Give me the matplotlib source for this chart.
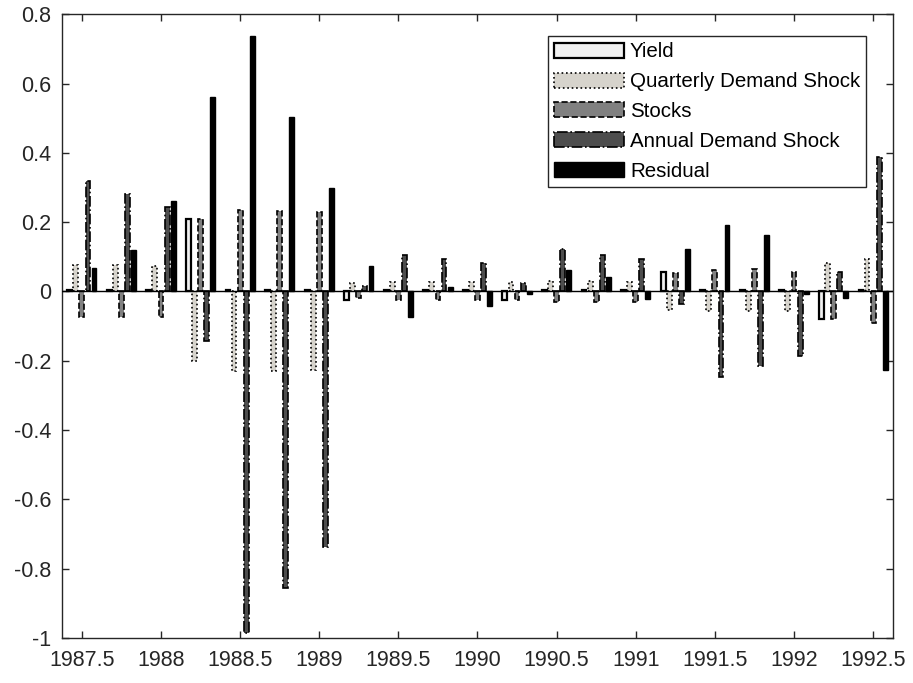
import numpy as np
import matplotlib
matplotlib.use('Agg')
import matplotlib.pyplot as plt

plt.rcParams['font.family'] = ['Liberation Sans', 'DejaVu Sans']

# quarterly dates
dates = [1987.5, 1987.75, 1988.0, 1988.25, 1988.5, 1988.75, 1989.0, 1989.25,
         1989.5, 1989.75, 1990.0, 1990.25, 1990.5, 1990.75, 1991.0, 1991.25,
         1991.5, 1991.75, 1992.0, 1992.25, 1992.5]

yield_ = [0.003, 0.003, 0.003, 0.21, 0.003, 0.003, 0.003, -0.025,
          0.003, 0.003, 0.003, -0.025, 0.003, 0.003, 0.003, 0.055,
          0.003, 0.003, 0.003, -0.08, 0.003]
quarterly = [0.076, 0.076, 0.075, -0.2, -0.229, -0.229, -0.227, 0.024,
             0.028, 0.028, 0.027, 0.028, 0.03, 0.03, 0.028, -0.052,
             -0.055, -0.055, -0.055, 0.083, 0.094]
stocks = [-0.073, -0.073, -0.073, 0.21, 0.235, 0.232, 0.23, -0.02,
          -0.025, -0.025, -0.025, -0.025, -0.03, -0.03, -0.03, 0.054,
          0.062, 0.065, 0.057, -0.08, -0.092]
annual = [0.32, 0.28, 0.243, -0.142, -0.985, -0.857, -0.737, 0.017,
          0.105, 0.093, 0.081, 0.024, 0.122, 0.105, 0.093, -0.036,
          -0.248, -0.215, -0.186, 0.057, 0.387]
residual = [0.067, 0.12, 0.26, 0.56, 0.737, 0.503, 0.30, 0.075,
            -0.073, 0.014, -0.042, -0.008, 0.062, 0.043, -0.023, 0.123,
            0.191, 0.163, -0.008, -0.02, -0.227]

names = ['Yield', 'Quarterly Demand Shock', 'Stocks', 'Annual Demand Shock', 'Residual']
series = [yield_, quarterly, stocks, annual, residual]
faces = ['#f0f0f0', '#d6d3cc', '#808080', '#4d4d4d', '#000000']
styles = ['-', ':', '--', '-.', '-']
widths = [1.6, 1.2, 1.2, 1.2, 1.0]

x = np.array(dates)
nser = len(series)
step = 0.25
groupw = step*nser/(nser+1.5)
slot = groupw/nser
barw = 0.8*slot

fig = plt.figure(figsize=(9.13, 6.83), dpi=100)
ax = fig.add_axes([0.068, 0.066, 0.91, 0.913])

for i in range(nser):
    off = (i-(nser-1)/2.)*slot
    ax.bar(x+off, series[i], barw, color=faces[i], edgecolor='k',
           linestyle=styles[i], linewidth=widths[i], label=names[i], zorder=2)

ax.axhline(0, color='k', lw=1.0, zorder=3)

ax.set_xlim(1987.375, 1992.625)
ax.set_ylim(-1, 0.8)
xt = np.arange(1987.5, 1992.51, 0.5)
ax.set_xticks(xt)
ax.set_xticklabels(['{:g}'.format(v) for v in xt])
yt = np.round(np.arange(-1, 0.81, 0.2), 1)
ax.set_yticks(yt)
ax.set_yticklabels(['{:g}'.format(v) if v != 0 else '0' for v in yt])

ax.tick_params(direction='in', top=True, right=True, length=5, width=1,
               labelsize=15.5, colors='#262626')
ax.tick_params(axis='x', pad=9)
ax.tick_params(axis='y', pad=8)
for s in ax.spines.values():
    s.set_color('#262626')
    s.set_linewidth(1)

leg = ax.legend(loc='upper right', bbox_to_anchor=(0.968, 0.965), fontsize=14.8,
                fancybox=False, framealpha=1, edgecolor='#262626',
                handlelength=3.4, handleheight=0.75, handletextpad=0.3,
                labelspacing=0.53, borderpad=0.3, borderaxespad=0)
leg.get_frame().set_linewidth(1)

plt.savefig('out.png', dpi=100)
plt.close()
